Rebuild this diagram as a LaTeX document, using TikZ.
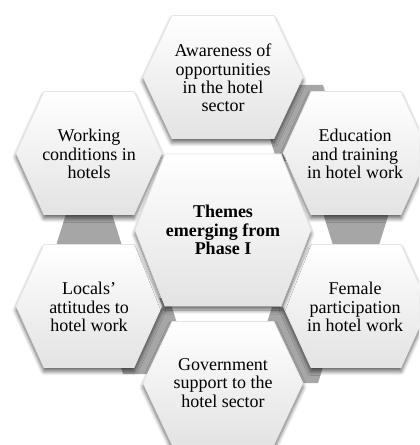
\documentclass[tikz,border=0pt]{standalone}
\usepackage{fontspec}
\setmainfont{Liberation Serif}
\usetikzlibrary{shadows.blur}

% hexagon with flat top/bottom: style, centre x, centre y, half width, half height, corner inset
\newcommand\hexagonat[6]{%
  \path[#1] ({#2-#4},#3) -- ({#2-#4+#6},{#3-#5}) -- ({#2+#4-#6},{#3-#5})
    -- ({#2+#4},#3) -- ({#2+#4-#6},{#3+#5}) -- ({#2-#4+#6},{#3+#5}) -- cycle;}

\tikzset{
  tile/.style={top color=white, middle color=white, bottom color=black!11,
    draw=black!10, line width=0.5pt,
    blur shadow={shadow xshift=0pt, shadow yshift=-3pt,
      shadow blur radius=3pt, shadow blur steps=8, shadow opacity=60}},
  spacer/.style={fill=black!35},
  hextext/.style={align=center, inner sep=0pt,
    font=\fontsize{13.5}{13.8}\selectfont},
  hexhead/.style={hextext, font=\fontsize{13.5}{13.8}\selectfont\bfseries},
}

\begin{document}
\begin{tikzpicture}[x=0.75pt, y=-0.75pt]
  \useasboundingbox (0,0) rectangle (419,445);
  \clip (0,0) rectangle (419,445);

  % small grey hexagons sitting behind the ring
  \hexagonat{spacer}{89}{252}{35}{38}{12}
  \hexagonat{spacer}{356}{207}{35}{38}{12}
  \hexagonat{spacer}{300}{123}{35}{38}{12}
  \hexagonat{spacer}{146}{336}{35}{38}{12}
  \hexagonat{spacer}{295}{345}{35}{38}{12}

  % outer ring of themes
  \hexagonat{tile}{223}{77}{80}{61.5}{29}
  \hexagonat{tile}{89}{153}{73}{61.5}{28}
  \hexagonat{tile}{356}{153}{73}{61.5}{28}
  \hexagonat{tile}{89}{306}{73}{61.5}{28}
  \hexagonat{tile}{356}{306}{73}{61.5}{28}
  \hexagonat{tile}{223}{383}{80}{61.5}{29}

  % central hexagon
  \hexagonat{tile}{223}{230}{88}{76}{30}

  \node[hexhead] (hub) at (223,230) {Themes\\emerging from\\Phase I};
  \node[hextext] (aware) at (223,78) {Awareness of\\opportunities\\in the hotel\\sector};
  \node[hextext] (work) at (89,154) {Working\\conditions in\\hotels};
  \node[hextext] (edu) at (355,154) {Education\\and training\\in hotel work};
  \node[hextext] (locals) at (89,307) {Locals’\\attitudes to\\hotel work};
  \node[hextext] (female) at (355,307) {Female\\participation\\in hotel work};
  \node[hextext] (gov) at (223,383) {Government\\support to the\\hotel sector};
\end{tikzpicture}
\end{document}
